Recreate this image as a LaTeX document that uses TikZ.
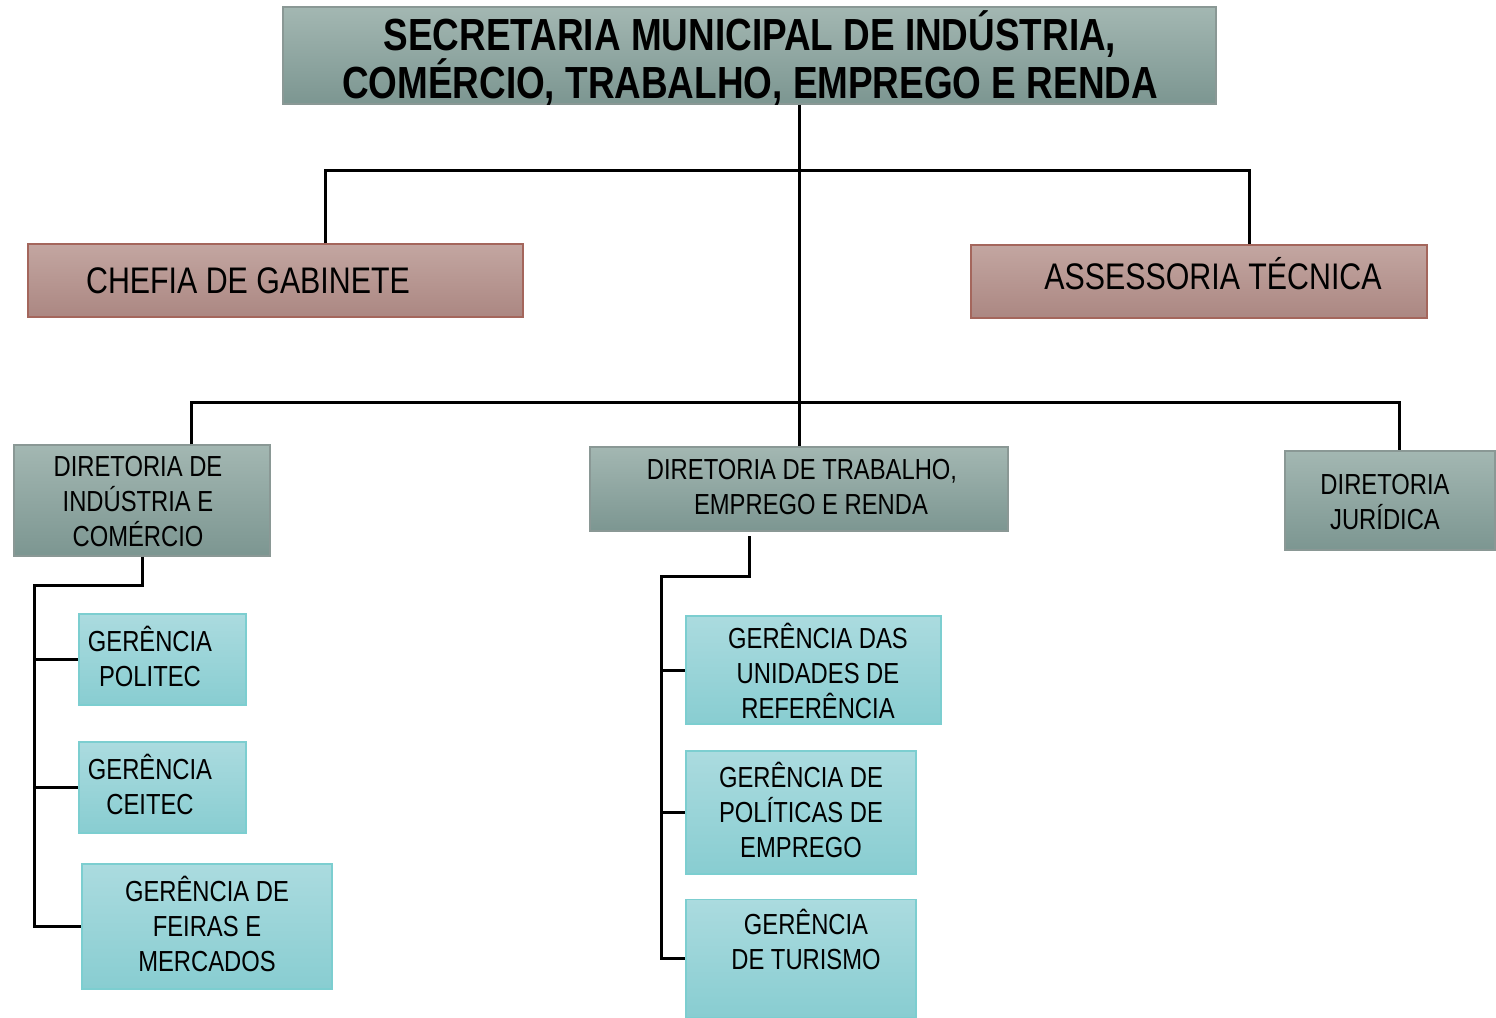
\documentclass[tikz,border=0pt]{standalone}
\usepackage{fontspec}
\setmainfont{Liberation Sans}[FakeStretch=0.82]
\definecolor{gtop}{HTML}{A3B7B2}
\definecolor{gbot}{HTML}{7C9691}
\definecolor{gline}{HTML}{8A9895}
\definecolor{rtop}{HTML}{C3A6A1}
\definecolor{rbot}{HTML}{AB8782}
\definecolor{rline}{HTML}{A4665C}
\definecolor{ctop}{HTML}{ABDBDF}
\definecolor{cbot}{HTML}{88CDD1}
\definecolor{cline}{HTML}{7CCED0}
\begin{document}
\begin{tikzpicture}[x=1pt,y=-1pt,
  conn/.style={line width=3pt, black},
  box/.style={rectangle, inner sep=0pt, line width=1.3pt},
  gbox/.style={box, draw=gline, top color=gtop, bottom color=gbot},
  rbox/.style={box, draw=rline, top color=rtop, bottom color=rbot},
  cbox/.style={box, draw=cline, top color=ctop, bottom color=cbot},
  txt/.style={align=center, inner sep=0pt, text=black, font=\fontsize{29}{35}\selectfont},
  bigtxt/.style={align=center, inner sep=0pt, text=black, font=\fontsize{37}{40}\selectfont},
  titletxt/.style={align=center, inner sep=0pt, text=black, font=\fontsize{45}{45.5}\selectfont\bfseries}
]
\useasboundingbox (0,0) rectangle (1496,1017);

% boxes
\node[gbox, minimum width=933pt, minimum height=97pt] (title) at (749.5,55.5) {};
\node[rbox, minimum width=495pt, minimum height=73pt] (chefia) at (275.5,280.5) {};
\node[rbox, minimum width=456pt, minimum height=73pt] (assess) at (1199,281.5) {};
\node[gbox, minimum width=256pt, minimum height=111pt] (dind) at (142,500.5) {};
\node[gbox, minimum width=418pt, minimum height=84pt] (dtrab) at (799,489) {};
\node[gbox, minimum width=210pt, minimum height=99pt] (djur) at (1390,500.5) {};
\node[cbox, minimum width=167pt, minimum height=91pt] (politec) at (162.5,659.5) {};
\node[cbox, minimum width=167pt, minimum height=91pt] (ceitec) at (162.5,787.5) {};
\node[cbox, minimum width=250pt, minimum height=125pt] (feiras) at (207,926.5) {};
\node[cbox, minimum width=255pt, minimum height=108pt] (ref) at (813.5,670) {};
\node[cbox, minimum width=230pt, minimum height=123pt] (pol) at (801,812.5) {};
\node[cbox, minimum width=230pt, minimum height=118pt] (tur) at (801,958.5) {};

% texts
\node[titletxt] (titleT) at (750,58) {SECRETARIA MUNICIPAL DE INDÚSTRIA,\\COMÉRCIO, TRABALHO, EMPREGO E RENDA};
\node[bigtxt] (chefiaT) at (248,280.5) {CHEFIA DE GABINETE};
\node[bigtxt] (assessT) at (1213,273.5) {ASSESSORIA TÉCNICA};
\node[txt] (dindT) at (138,502) {DIRETORIA DE\\INDÚSTRIA E\\COMÉRCIO};
\node[txt] (dtrabT) at (802,487) {DIRETORIA DE TRABALHO,\\\hspace*{18pt}EMPREGO E RENDA};
\node[txt] (djurT) at (1385,502) {DIRETORIA\\JURÍDICA};
\node[txt] (politecT) at (150,656) {GERÊNCIA\\POLITEC};
\node[txt] (ceitecT) at (150,784.5) {GERÊNCIA\\CEITEC};
\node[txt] (feirasT) at (207,924) {GERÊNCIA DE\\FEIRAS E\\MERCADOS};
\node[txt] (refT) at (818,671) {GERÊNCIA DAS\\UNIDADES DE\\REFERÊNCIA};
\node[txt] (polT) at (801,810) {GERÊNCIA DE\\POLÍTICAS DE\\EMPREGO};
\node[txt] (turT) at (806,939) {GERÊNCIA\\DE TURISMO};

% connectors
\coordinate (hA) at (325,170);
\coordinate (hB) at (1249,170);
\coordinate (hC) at (191,402);
\coordinate (hD) at (1399,402);
\coordinate (b1) at (34,585);
\coordinate (t2) at (749,536);
\coordinate (b2) at (661,576);

\draw[conn] (title.south -| dtrab.north) -- (dtrab.north);
\draw[conn] (hA |- chefia.north) -- (hA) -- (hB) -- (hB |- assess.north);
\draw[conn] (hC |- dind.north) -- (hC) -- (hD) -- (hD |- djur.north);

\draw[conn] (dind.south) |- (b1) |- (feiras.west);
\draw[conn] (politec.west -| b1) -- (politec.west);
\draw[conn] (ceitec.west -| b1) -- (ceitec.west);

\draw[conn] (t2) |- (b2) |- (tur.west);
\draw[conn] (ref.west -| b2) -- (ref.west);
\draw[conn] (pol.west -| b2) -- (pol.west);
\end{tikzpicture}
\end{document}
